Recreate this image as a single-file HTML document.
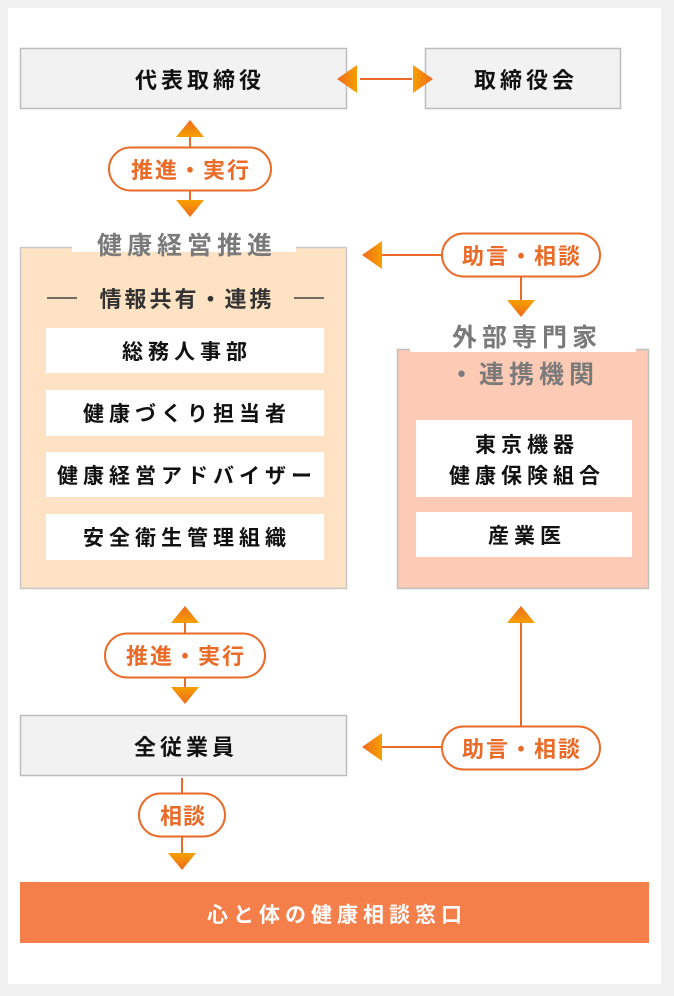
<!DOCTYPE html>
<html><head><meta charset="utf-8"><style>
html,body{margin:0;padding:0;background:#f0f0f0;}
svg{display:block}
text{font-family:"Liberation Sans","Noto Sans CJK JP",sans-serif;font-weight:bold;}
</style></head><body>
<svg width="674" height="996" viewBox="0 0 674 996" xmlns="http://www.w3.org/2000/svg">
<defs>
<linearGradient id="gv" x1="0" y1="0" x2="0" y2="1"><stop offset="0" stop-color="#f6a000"/><stop offset="1" stop-color="#ee6a1f"/></linearGradient>
<linearGradient id="gvu" x1="0" y1="1" x2="0" y2="0"><stop offset="0" stop-color="#f6a000"/><stop offset="1" stop-color="#ee6a1f"/></linearGradient>
<linearGradient id="gh" x1="0" y1="0" x2="1" y2="0"><stop offset="0" stop-color="#ee6a1f"/><stop offset="1" stop-color="#f6a000"/></linearGradient>
<linearGradient id="ghr" x1="0" y1="0" x2="1" y2="0"><stop offset="0" stop-color="#f6a000"/><stop offset="1" stop-color="#ee6a1f"/></linearGradient>
</defs>
<rect x="8" y="8" width="653" height="976" fill="#fff"/>

<rect x="20.5" y="48.5" width="326" height="60" fill="#f2f2f2" stroke="#bdbdbd" stroke-width="1.5"/>
<text x="200" y="88" font-size="22" text-anchor="middle" fill="#111" letter-spacing="4">代表取締役</text>
<rect x="425.5" y="48.5" width="195" height="60" fill="#f2f2f2" stroke="#bdbdbd" stroke-width="1.5"/>
<text x="526" y="88" font-size="22" text-anchor="middle" fill="#111" letter-spacing="4">取締役会</text>
<line x1="360" y1="79" x2="412" y2="79" stroke="#ea6a27" stroke-width="2"/>
<polygon points="337,79 357,65 357,93" fill="url(#gh)"/>
<polygon points="433,79 413,65 413,93" fill="url(#ghr)"/>

<line x1="190" y1="135" x2="190" y2="205" stroke="#ea6a27" stroke-width="2"/>
<polygon points="190,120 176,137 204,137" fill="url(#gvu)"/>
<rect x="109" y="147.5" width="162" height="43" rx="21.5" fill="#fff" stroke="#ea6a27" stroke-width="2"/>
<text x="191" y="178" font-size="22" text-anchor="middle" fill="#ea6a27" letter-spacing="2">推進・実行</text>
<polygon points="190,217 176,200 204,200" fill="url(#gv)"/>

<rect x="20.5" y="247.5" width="326" height="341" fill="#fde3c3" stroke="#c8c8c8" stroke-width="1.5"/>
<rect x="72" y="236" width="224" height="16" fill="#fff"/>
<text x="187" y="254" font-size="25" text-anchor="middle" fill="#7a7a7a" letter-spacing="5">健康経営推進</text>
<line x1="47" y1="298" x2="77" y2="298" stroke="#444" stroke-width="1.5"/>
<line x1="294" y1="298" x2="324" y2="298" stroke="#444" stroke-width="1.5"/>
<text x="187" y="307" font-size="22" text-anchor="middle" fill="#333" letter-spacing="3">情報共有・連携</text>
<rect x="46" y="328" width="278" height="45" fill="#fff"/>
<text x="187" y="359" font-size="21" text-anchor="middle" fill="#111" letter-spacing="5">総務人事部</text>
<rect x="46" y="390" width="278" height="46" fill="#fff"/>
<text x="187" y="421" font-size="21" text-anchor="middle" fill="#111" letter-spacing="5">健康づくり担当者</text>
<rect x="46" y="452" width="278" height="45" fill="#fff"/>
<text x="187" y="483" font-size="21" text-anchor="middle" fill="#111" letter-spacing="5">健康経営アドバイザー</text>
<rect x="46" y="514" width="278" height="46" fill="#fff"/>
<text x="187" y="545" font-size="21" text-anchor="middle" fill="#111" letter-spacing="5">安全衛生管理組織</text>

<line x1="378" y1="255" x2="442" y2="255" stroke="#ea6a27" stroke-width="2"/>
<polygon points="362,255 382,241 382,269" fill="url(#gh)"/>
<line x1="521" y1="276" x2="521" y2="302" stroke="#ea6a27" stroke-width="2"/>
<rect x="442" y="233.5" width="158" height="43" rx="21.5" fill="#fff" stroke="#ea6a27" stroke-width="2"/>
<text x="522" y="264" font-size="22" text-anchor="middle" fill="#ea6a27" letter-spacing="2">助言・相談</text>
<polygon points="521,317 507,300 535,300" fill="url(#gv)"/>

<rect x="397.5" y="349.5" width="251" height="239" fill="#fdcbb5" stroke="#c0c0c0" stroke-width="1.5"/>
<rect x="410" y="340" width="226" height="12" fill="#fff"/>
<text x="527" y="346" font-size="25" text-anchor="middle" fill="#7a7a7a" letter-spacing="5">外部専門家</text>
<text x="524" y="383" font-size="25" text-anchor="middle" fill="#7a7a7a" letter-spacing="5">・連携機関</text>
<rect x="416" y="420" width="216" height="77" fill="#fff"/>
<text x="527" y="452" font-size="21" text-anchor="middle" fill="#111" letter-spacing="5">東京機器</text>
<text x="527" y="483" font-size="21" text-anchor="middle" fill="#111" letter-spacing="5">健康保険組合</text>
<rect x="416" y="512" width="216" height="45" fill="#fff"/>
<text x="527" y="543" font-size="21" text-anchor="middle" fill="#111" letter-spacing="5">産業医</text>

<line x1="185" y1="622" x2="185" y2="692" stroke="#ea6a27" stroke-width="2"/>
<polygon points="185,606 171,623 199,623" fill="url(#gvu)"/>
<rect x="105" y="633.5" width="160" height="44" rx="22" fill="#fff" stroke="#ea6a27" stroke-width="2"/>
<text x="186" y="664" font-size="22" text-anchor="middle" fill="#ea6a27" letter-spacing="2">推進・実行</text>
<polygon points="185,704 171,687 199,687" fill="url(#gv)"/>

<rect x="20.5" y="715.5" width="326" height="60" fill="#f2f2f2" stroke="#bdbdbd" stroke-width="1.5"/>
<text x="186" y="755" font-size="22" text-anchor="middle" fill="#111" letter-spacing="4">全従業員</text>

<line x1="521" y1="622" x2="521" y2="727" stroke="#ea6a27" stroke-width="2"/>
<polygon points="521,606 507,623 535,623" fill="url(#gvu)"/>
<line x1="378" y1="747" x2="442" y2="747" stroke="#ea6a27" stroke-width="2"/>
<polygon points="362,747 382,733 382,761" fill="url(#gh)"/>
<rect x="442" y="726.5" width="158" height="43" rx="21.5" fill="#fff" stroke="#ea6a27" stroke-width="2"/>
<text x="522" y="757" font-size="22" text-anchor="middle" fill="#ea6a27" letter-spacing="2">助言・相談</text>

<line x1="182" y1="778" x2="182" y2="858" stroke="#ea6a27" stroke-width="2"/>
<rect x="139" y="793.5" width="86" height="43" rx="21.5" fill="#fff" stroke="#ea6a27" stroke-width="2"/>
<text x="183" y="824" font-size="22" text-anchor="middle" fill="#ea6a27" letter-spacing="1">相談</text>
<polygon points="182,870 168,853 196,853" fill="url(#gv)"/>

<rect x="20" y="882" width="629" height="61" fill="#f47f4a"/>
<text x="337" y="922" font-size="21" text-anchor="middle" fill="#fff" letter-spacing="5">心と体の健康相談窓口</text>
</svg>
</body></html>
